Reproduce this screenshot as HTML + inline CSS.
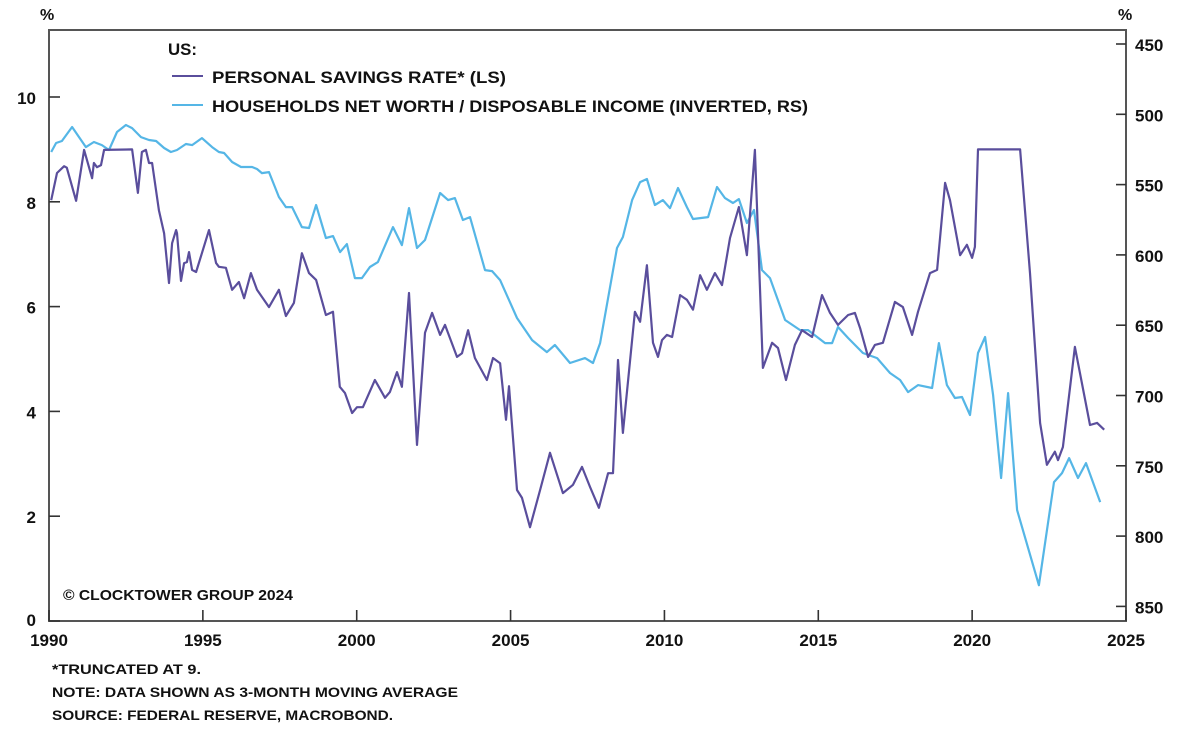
<!DOCTYPE html>
<html><head><meta charset="utf-8"><style>
html,body{margin:0;padding:0;background:#fff;}
svg{display:block;font-family:"Liberation Sans",sans-serif;font-weight:bold;}
</style></head><body>
<svg id="chart" width="1204" height="732" viewBox="0 0 1204 732" xmlns="http://www.w3.org/2000/svg">
<rect x="0" y="0" width="1204" height="732" fill="#fff"/>
<g id="axes"></g>
<g id="series"></g>
<g>
<text x="168" y="55" font-size="17" fill="#111" textLength="29" lengthAdjust="spacingAndGlyphs">US:</text>
<line x1="172" y1="76" x2="203" y2="76" stroke="#5a4e9c" stroke-width="2"/>
<text x="212" y="83" font-size="17" fill="#111" textLength="294" lengthAdjust="spacingAndGlyphs">PERSONAL SAVINGS RATE* (LS)</text>
<line x1="172" y1="105" x2="203" y2="105" stroke="#55b6e6" stroke-width="2"/>
<text x="212" y="112" font-size="17" fill="#111" textLength="596" lengthAdjust="spacingAndGlyphs">HOUSEHOLDS NET WORTH / DISPOSABLE INCOME (INVERTED, RS)</text>
</g>
<text x="63" y="600" font-size="15" fill="#111" textLength="230" lengthAdjust="spacingAndGlyphs">© CLOCKTOWER GROUP 2024</text>
<text x="40" y="20" font-size="16" fill="#111">%</text>
<text x="1118" y="20" font-size="16" fill="#111">%</text>
<text x="52" y="674" font-size="14" fill="#111" textLength="149" lengthAdjust="spacingAndGlyphs">*TRUNCATED AT 9.</text>
<text x="52" y="697" font-size="14" fill="#111" textLength="406" lengthAdjust="spacingAndGlyphs">NOTE: DATA SHOWN AS 3-MONTH MOVING AVERAGE</text>
<text x="52" y="720" font-size="14" fill="#111" textLength="341" lengthAdjust="spacingAndGlyphs">SOURCE: FEDERAL RESERVE, MACROBOND.</text>
</svg>
<script>
const savYears=[1990.07,1990.26,1990.49,1990.58,1990.88,1991.14,1991.40,1991.46,1991.56,1991.69,1991.79,1992.70,1992.89,1993.02,1993.15,1993.25,1993.35,1993.57,1993.74,1993.90,1994.00,1994.13,1994.16,1994.29,1994.39,1994.48,1994.55,1994.65,1994.78,1994.97,1995.20,1995.43,1995.52,1995.75,1995.95,1996.17,1996.34,1996.56,1996.76,1997.15,1997.47,1997.70,1997.96,1998.22,1998.45,1998.68,1999.00,1999.23,1999.45,1999.62,1999.85,2000.01,2000.20,2000.59,2000.92,2001.08,2001.31,2001.47,2001.70,2001.96,2002.22,2002.45,2002.71,2002.87,2003.26,2003.42,2003.62,2003.84,2004.23,2004.43,2004.66,2004.85,2004.95,2005.21,2005.37,2005.63,2005.96,2006.28,2006.70,2007.03,2007.32,2007.58,2007.87,2008.17,2008.33,2008.49,2008.65,2009.04,2009.21,2009.43,2009.63,2009.79,2009.92,2010.08,2010.25,2010.51,2010.73,2010.93,2011.16,2011.38,2011.64,2011.87,2012.13,2012.42,2012.68,2012.94,2013.20,2013.50,2013.69,2013.95,2014.24,2014.47,2014.80,2015.12,2015.38,2015.64,2015.97,2016.19,2016.36,2016.62,2016.84,2017.10,2017.49,2017.75,2018.05,2018.24,2018.63,2018.86,2019.12,2019.28,2019.61,2019.83,2020.00,2020.09,2020.19,2021.56,2021.88,2022.21,2022.43,2022.69,2022.79,2022.95,2023.34,2023.83,2024.06,2024.29];
const savValues=[8.03,8.55,8.68,8.65,8.02,8.99,8.45,8.74,8.66,8.70,8.99,9.0,8.17,8.95,8.99,8.74,8.74,7.84,7.40,6.45,7.21,7.46,7.40,6.49,6.83,6.85,7.04,6.70,6.66,7.02,7.46,6.83,6.76,6.74,6.32,6.47,6.16,6.64,6.32,5.99,6.32,5.82,6.07,7.02,6.64,6.51,5.84,5.90,4.47,4.35,3.97,4.08,4.08,4.60,4.26,4.37,4.75,4.47,6.26,3.36,5.50,5.88,5.46,5.65,5.04,5.11,5.55,5.02,4.60,5.02,4.92,3.84,4.48,2.50,2.35,1.79,2.50,3.21,2.44,2.60,2.94,2.56,2.16,2.82,2.82,4.98,3.59,5.90,5.71,6.79,5.31,5.04,5.36,5.46,5.42,6.22,6.13,5.94,6.60,6.32,6.64,6.41,7.31,7.90,6.98,8.99,4.83,5.31,5.21,4.60,5.27,5.55,5.42,6.22,5.88,5.65,5.84,5.88,5.59,5.04,5.27,5.31,6.09,5.99,5.46,5.90,6.64,6.70,8.36,8.03,6.98,7.18,6.93,7.14,9.0,9.0,6.64,3.78,2.98,3.23,3.07,3.32,5.23,3.74,3.78,3.65];
const nwYears=[1990.07,1990.23,1990.42,1990.75,1991.20,1991.46,1991.72,1991.95,1992.21,1992.50,1992.70,1992.99,1993.25,1993.48,1993.74,1993.96,1994.16,1994.45,1994.65,1994.97,1995.30,1995.52,1995.69,1995.95,1996.24,1996.60,1996.76,1996.92,1997.15,1997.47,1997.70,1997.90,1998.22,1998.45,1998.68,1999.00,1999.23,1999.46,1999.68,1999.94,2000.17,2000.43,2000.69,2001.18,2001.47,2001.70,2001.96,2002.22,2002.71,2002.97,2003.19,2003.45,2003.68,2004.17,2004.40,2004.66,2005.21,2005.70,2006.18,2006.44,2006.93,2007.42,2007.68,2007.91,2008.46,2008.65,2008.95,2009.21,2009.43,2009.69,2009.95,2010.18,2010.44,2010.73,2010.93,2011.42,2011.71,2011.97,2012.23,2012.42,2012.68,2012.91,2013.17,2013.43,2013.92,2014.41,2014.67,2015.22,2015.45,2015.64,2015.97,2016.36,2016.45,2016.91,2017.33,2017.66,2017.92,2018.24,2018.70,2018.92,2019.18,2019.44,2019.67,2019.93,2020.19,2020.42,2020.68,2020.94,2021.17,2021.46,2022.17,2022.66,2022.92,2023.15,2023.44,2023.70,2024.16];
const nwValues=[526.8,520.4,519.0,509.0,523.3,519.7,521.9,525.4,512.6,507.6,509.8,516.2,518.3,519.0,524.0,526.8,525.4,521.1,521.9,516.9,523.3,526.8,527.5,533.9,537.5,537.5,538.9,541.8,541.1,558.8,566.0,566.0,580.2,580.9,564.5,588.0,586.6,598.0,592.3,616.5,616.5,608.6,605.1,580.2,593.0,566.7,595.1,589.4,556.0,561.0,559.6,575.2,573.1,610.8,611.5,617.9,644.9,660.6,669.1,664.1,676.9,673.4,676.9,662.7,595.1,587.3,561.0,548.2,546.0,564.5,561.0,566.7,552.4,566.0,574.5,573.1,551.7,559.6,563.1,560.3,577.3,568.1,610.8,616.5,646.3,653.5,653.5,662.7,662.7,651.3,659.1,667.7,669.8,673.4,684.0,689.0,697.6,692.6,694.7,662.7,692.6,701.8,701.1,713.9,669.8,658.4,699.7,758.7,698.3,781.5,834.9,761.6,755.2,744.5,758.7,748.1,775.8];
const leftTicks=[0,2,4,6,8,10];
const rightTicks=[450,500,550,600,650,700,750,800,850];
const yearTicks=[1990,1995,2000,2005,2010,2015,2020,2025];

const NS='http://www.w3.org/2000/svg';
const PL=49,PR=1126,PT=30,PB=621;
const xs=y=>PL+(y-1990)/35*(PR-PL);
const yl=v=>621-v*52.4;
const yr=v=>44+(v-450)/50*70.3;
function mk(tag,attrs,parent){const e=document.createElementNS(NS,tag);for(const k in attrs)e.setAttribute(k,attrs[k]);parent.appendChild(e);return e;}
const axes=document.getElementById('axes');
const frame=mk('rect',{x:PL,y:PT,width:PR-PL,height:PB-PT,fill:'none',stroke:'#555','stroke-width':2},axes);


leftTicks.forEach(v=>{
 const t=mk('line',{x1:PL,x2:PL+11,y1:yl(v),y2:yl(v),stroke:'#333','stroke-width':1.6},axes);
 
 
 const l=mk('text',{x:36,y:yl(v)+(v===0?5:7),'text-anchor':'end','font-size':17,fill:'#111'},axes);
 l.textContent=v;
 
 
});
rightTicks.forEach(v=>{
 const t=mk('line',{x1:PR-10,x2:PR,y1:yr(v),y2:yr(v),stroke:'#333','stroke-width':1.6},axes);
 
 
 const l=mk('text',{x:1135,y:yr(v)+7,'font-size':17,fill:'#111'},axes);
 l.textContent=v;
 
 
});
yearTicks.forEach(v=>{
 const t=mk('line',{x1:xs(v),x2:xs(v),y1:PB-11,y2:PB,stroke:'#333','stroke-width':1.6},axes);
 
 
 const l=mk('text',{x:xs(v),y:646,'text-anchor':'middle','font-size':17,fill:'#111'},axes);
 l.textContent=v;
 
 
});
const series=document.getElementById('series');
const nwPath=mk('path',{d:nwYears.map((y,i)=>(i?'L':'M')+xs(y).toFixed(1)+' '+yr(nwValues[i]).toFixed(1)).join(''),fill:'none',stroke:'#55b6e6','stroke-width':2.2,'stroke-linejoin':'round'},series);


const svPath=mk('path',{d:savYears.map((y,i)=>(i?'L':'M')+xs(y).toFixed(1)+' '+yl(savValues[i]).toFixed(1)).join(''),fill:'none',stroke:'#5a4e9c','stroke-width':2.2,'stroke-linejoin':'round'},series);


</script>
</body></html>
